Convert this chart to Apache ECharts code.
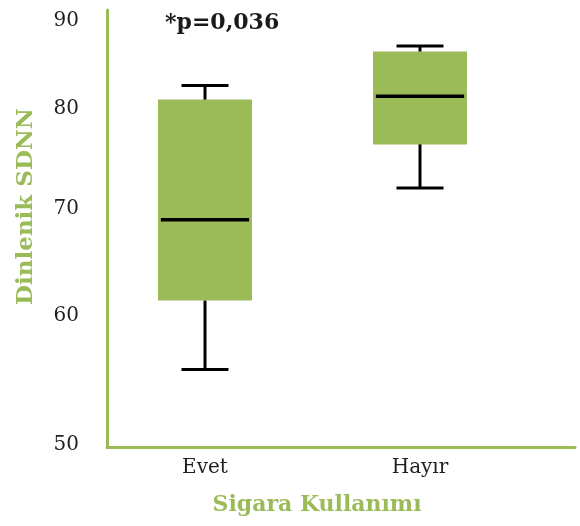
<!DOCTYPE html>
<html>
<head>
<meta charset="utf-8">
<script src="https://cdn.jsdelivr.net/npm/echarts@6/dist/echarts.min.js"></script>
<style>
  html, body { margin: 0; padding: 0; background: #ffffff; }
  #chart { width: 580px; height: 526px; }
</style>
</head>
<body>
<div id="chart"></div>
<script>
// ---- data ----
const categories = ['Evet', 'Hayır'];
// [min, Q1, median, Q3, max]
const evetBox = [57.1, 63.4, 70.8, 81.8, 83.1];
const hayirBox = [73.7, 77.7, 82.1, 86.2, 86.7];
const yTicks = [50, 60, 70, 80, 90];
const annotationText = '*p=0,036';
const xAxisTitle = 'Sigara Kullanımı';
const yAxisTitle = 'Dinlenik SDNN';

// ---- styling ----
const GREEN = '#9bbb59';
const FONT = 'DejaVu Serif';
const labelShift = { 50: -2, 60: -22, 70: -20, 80: -10, 90: 11 };
const rich = {};
yTicks.forEach(function (t) {
  const d = labelShift[t] || 0;
  rich['t' + t] = {
    fontFamily: FONT, fontSize: 20, color: '#1f1f1f',
    padding: d > 0 ? [2 * d, 0, 0, 0] : [0, 0, -2 * d, 0]
  };
});

const boxData = [evetBox, hayirBox].map(function (b, i) { return [i].concat(b); });

const chart = echarts.init(document.getElementById('chart'), null, { renderer: 'canvas' });
chart.setOption({
  animation: false,
  backgroundColor: '#ffffff',
  title: {
    text: annotationText,
    left: 160, top: 7,
    textStyle: { fontFamily: FONT, fontWeight: 'bold', fontSize: 22, color: '#1a1a1a' }
  },
  grid: [
    { left: 107, right: 5, top: 10, bottom: 79 },
    { left: 97.5, right: 52.5, top: 10, bottom: 79 }
  ],
  xAxis: [
    {
      gridIndex: 0, type: 'category', data: categories,
      axisLine: { show: true, lineStyle: { color: GREEN, width: 3 } },
      axisTick: { show: false }, axisLabel: { show: false }, splitLine: { show: false }
    },
    {
      gridIndex: 1, type: 'category', data: categories,
      axisLine: { show: false }, axisTick: { show: false },
      axisLabel: { margin: 11, fontFamily: FONT, fontSize: 20, color: '#1f1f1f' },
      name: xAxisTitle, nameLocation: 'middle', nameGap: 47,
      nameTextStyle: { fontFamily: FONT, fontWeight: 'bold', fontSize: 22, color: GREEN, padding: [0, 0, 0, 9] }
    }
  ],
  yAxis: [
    {
      gridIndex: 0, type: 'value', min: 50, max: 90, interval: 10,
      axisLine: { show: true, lineStyle: { color: GREEN, width: 3 } },
      axisTick: { show: false }, splitLine: { show: false },
      axisLabel: {
        margin: 28,
        formatter: function (v) { return '{t' + v + '|' + v + '}'; },
        rich: rich
      },
      name: yAxisTitle, nameLocation: 'middle', nameGap: 69, nameRotate: 90,
      nameTextStyle: { fontFamily: FONT, fontWeight: 'bold', fontSize: 23, color: GREEN, padding: [0, 0, 0, 44] }
    },
    {
      gridIndex: 1, type: 'value', min: 50, max: 90, interval: 10, show: false
    }
  ],
  series: [{
    type: 'custom',
    xAxisIndex: 1, yAxisIndex: 1,
    data: boxData,
    encode: { x: 0, y: [1, 2, 3, 4, 5] },
    renderItem: function (params, api) {
      const x = api.value(0);
      const lo = api.coord([x, api.value(1)]);
      const q1 = api.coord([x, api.value(2)]);
      const md = api.coord([x, api.value(3)]);
      const q3 = api.coord([x, api.value(4)]);
      const hi = api.coord([x, api.value(5)]);
      const band = api.size([1, 0])[0];
      const bw = band * 0.437;
      const cw = bw * 0.5;
      const mw = bw * 0.94;
      const cx = md[0];
      const black = { stroke: '#000000', lineWidth: 3 };
      return {
        type: 'group',
        children: [
          { type: 'rect', shape: { x: cx - bw / 2, y: q3[1], width: bw, height: q1[1] - q3[1] }, style: { fill: GREEN } },
          { type: 'line', shape: { x1: cx, y1: q3[1], x2: cx, y2: hi[1] }, style: black },
          { type: 'line', shape: { x1: cx - cw / 2, y1: hi[1], x2: cx + cw / 2, y2: hi[1] }, style: black },
          { type: 'line', shape: { x1: cx, y1: q1[1], x2: cx, y2: lo[1] }, style: black },
          { type: 'line', shape: { x1: cx - cw / 2, y1: lo[1], x2: cx + cw / 2, y2: lo[1] }, style: black },
          { type: 'line', shape: { x1: cx - mw / 2, y1: md[1], x2: cx + mw / 2, y2: md[1] }, style: { stroke: '#000000', lineWidth: 3.5 } }
        ]
      };
    }
  }]
});
</script>
</body>
</html>
